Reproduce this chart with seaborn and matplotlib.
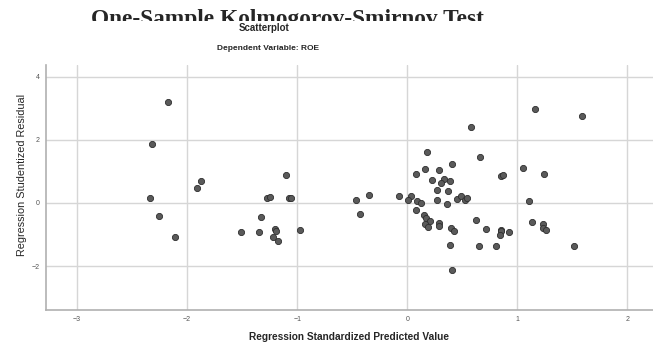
import matplotlib
matplotlib.use("Agg")
import matplotlib.pyplot as plt
from matplotlib.patches import Rectangle
import seaborn as sns
import pandas as pd

# regression standardized predicted value vs studentized residual
pred_left = [-2.17, -2.32, -1.876, -1.91, -1.104, -2.337, -2.258, -2.107, -1.51, -1.349,
             -1.326, -1.274, -1.244, -1.198, -1.192, -1.222, -1.171, -1.074, -1.053, -0.977]
resid_left = [3.21, 1.88, 0.69, 0.48, 0.90, 0.15, -0.41, -1.08, -0.91, -0.93,
              -0.45, 0.15, 0.20, -0.82, -0.89, -1.08, -1.19, 0.15, 0.15, -0.85]

pred_right = [1.158, 1.591, 0.58, 0.18, 0.661, 0.404, 0.165, 0.286, 0.08, 1.052,
              0.85, 0.873, 1.246, 0.228, 0.334, 0.389, 0.31, 0.274, 0.374, -0.347,
              -0.468, -0.077, 0.032, -0.426, 0.007, 0.086, 0.123, 0.268, 0.364, 0.45,
              0.489, 0.528, 0.546, 1.104, 0.077, 0.156, 0.174, 0.204, 0.165, 0.189,
              0.284, 0.284, 0.402, 0.422, 0.624, 0.719, 0.849, 0.852, 0.846, 0.928,
              0.386, 0.65, 0.808, 1.513, 0.407, 1.134, 1.231, 1.231, 1.258]
resid_right = [2.98, 2.76, 2.42, 1.61, 1.47, 1.23, 1.08, 1.06, 0.91, 1.10,
               0.86, 0.90, 0.91, 0.74, 0.76, 0.71, 0.62, 0.42, 0.38, 0.26,
               0.11, 0.22, 0.23, -0.34, 0.10, 0.07, 0.0, 0.10, -0.02, 0.14,
               0.23, 0.09, 0.17, 0.07, -0.21, -0.37, -0.49, -0.57, -0.68, -0.76,
               -0.62, -0.72, -0.79, -0.88, -0.53, -0.81, -0.84, -0.88, -1.02, -0.92,
               -1.33, -1.36, -1.36, -1.35, -2.12, -0.59, -0.66, -0.79, -0.87]

xticks = [-3, -2, -1, 0, 1, 2]
yticks = [-2, 0, 2, 4]

df = pd.DataFrame({"pred": pred_left + pred_right, "resid": resid_left + resid_right})

sns.set_style("white")
plt.rcParams["font.family"] = ["Liberation Sans", "DejaVu Sans"]

fig = plt.figure(figsize=(6.53, 3.44), dpi=100)
ax = fig.add_axes([0.070, 0.0988, 0.930, 0.7122])

sns.scatterplot(data=df, x="pred", y="resid", ax=ax, s=20, color="#5a5a5a",
                edgecolor="#2e2e2e", linewidth=0.6, zorder=3)

ax.set_xlim(-3.285, 2.233)
ax.set_ylim(-3.39, 4.37)
ax.set_xticks(xticks)
ax.set_yticks(yticks)
ax.tick_params(length=0, labelsize=5, colors="#555555", pad=4.5)
ax.grid(True, color="#d6d6d6", linewidth=1)
ax.set_axisbelow(True)
for s in ["top", "right"]:
    ax.spines[s].set_visible(False)
for s in ["left", "bottom"]:
    ax.spines[s].set_color("#b0b0b0")
    ax.spines[s].set_linewidth(1.2)

ax.set_xlabel("Regression Standardized Predicted Value", fontsize=7.3,
              fontweight="bold", labelpad=6)
ax.set_ylabel("")
fig.text(22 / 653, 1 - 175 / 344, "Regression Studentized Residual", rotation=90,
         ha="center", va="center", fontsize=7.8)

# clipped heading from the page behind the chart
fig.text(287 / 653, 1 - 25 / 344, "One-Sample Kolmogorov-Smirnov Test",
         family=["Liberation Serif", "DejaVu Serif"], fontweight="bold",
         fontsize=16.8, ha="center", va="baseline", zorder=3)
fig.add_artist(Rectangle((0, 1 - 40 / 344), 1, 19 / 344, transform=fig.transFigure,
                         facecolor="white", edgecolor="none", zorder=4))

fig.text(264 / 653, 1 - 28 / 344, "Scatterplot", ha="center", va="center",
         fontsize=7, fontweight="bold", zorder=6)
fig.text(268 / 653, 1 - 48.5 / 344, "Dependent Variable: ROE", ha="center",
         va="center", fontsize=6.0, fontweight="bold", zorder=6)

fig.savefig("out.png", dpi=100)
